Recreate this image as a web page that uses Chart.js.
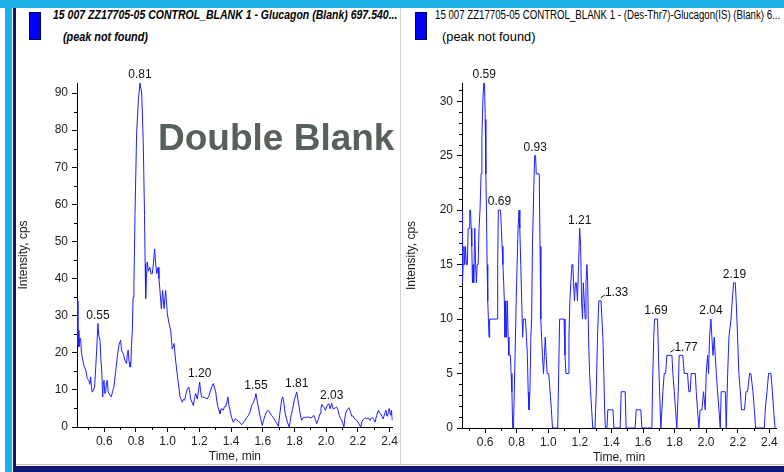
<!DOCTYPE html>
<html>
<head>
<meta charset="utf-8">
<script src="https://cdn.jsdelivr.net/npm/chart.js@4.4.1/dist/chart.umd.min.js"></script>
<style>
body{margin:0;width:784px;height:472px;position:relative;overflow:hidden;background:#fff;
  font-family:'Liberation Sans Narrow','Arial Narrow',Arial,sans-serif}
.abs{position:absolute}
#topbar{left:0;top:0;width:784px;height:8px;background:#1cb2e6}
#leftbar{left:5px;top:0;width:7px;height:472px;background:#1cb2e6}
#navyL{left:13px;top:8px;width:3px;height:464px;background:#0e1678}
#navyB{left:13px;top:466px;width:771px;height:6px;background:#0e1678}
#greyB{left:16px;top:464px;width:768px;height:1px;background:#c8c8c8}
#divider{left:400px;top:8px;width:1px;height:456px;background:#d4d4d4}
.box{width:10px;height:26px;background:#0000ff;border:1px solid #000060}
.t{white-space:nowrap;font-size:12px;line-height:14px;color:#000;transform-origin:0 0}
.bi{font-weight:bold;font-style:italic}
#dbl{left:158px;top:119px;font:bold 37px 'Liberation Sans',Arial,sans-serif;line-height:37px;color:#58605a;white-space:nowrap}
canvas{position:absolute}
</style>
</head>
<body>
<div class="abs" id="topbar"></div>
<div class="abs" id="leftbar"></div>
<div class="abs" id="navyL"></div>
<div class="abs" id="greyB"></div>
<div class="abs" id="navyB"></div>
<div class="abs" id="divider"></div>

<div class="abs box" style="left:29px;top:12px"></div>
<div class="abs t bi" style="left:53px;top:8px" data-w="344">15 007 ZZ17705-05 CONTROL_BLANK 1 - Glucagon (Blank) 697.540...</div>
<div class="abs t bi" style="left:63px;top:30px" data-w="85">(peak not found)</div>

<div class="abs box" style="left:415px;top:12px"></div>
<div class="abs t" style="left:435px;top:8px" data-w="345">15 007 ZZ17705-05 CONTROL_BLANK 1 - (Des-Thr7)-Glucagon(IS) (Blank) 6...</div>
<div class="abs t" style="left:442px;top:30px" data-w="93">(peak not found)</div>

<canvas id="left" width="388" height="410" style="left:12px;top:60px"></canvas>
<canvas id="right" width="384" height="410" style="left:400px;top:60px"></canvas>

<div class="abs" id="dbl">Double Blank</div>

<script>
// --- data ---
const leftTime = [
  0.431,0.434,0.437,0.440,0.446,0.451,0.456,0.461,0.472,0.483,
  0.493,0.503,0.509,0.514,0.519,0.524,0.532,0.539,0.546,0.552,
  0.560,0.566,0.573,0.579,0.584,0.590,0.594,0.598,0.604,0.609,
  0.614,0.619,0.625,0.630,0.637,0.644,0.652,0.661,0.672,0.682,
  0.692,0.703,0.710,0.720,0.730,0.741,0.746,0.751,0.757,0.762,
  0.767,0.772,0.777,0.782,0.787,0.790,0.794,0.804,0.815,0.825,
  0.836,0.846,0.854,0.858,0.861,0.866,0.871,0.879,0.888,0.895,
  0.903,0.910,0.918,0.924,0.931,0.939,0.945,0.951,0.960,0.968,
  0.977,0.987,0.998,1.008,1.019,1.029,1.040,1.050,1.058,1.065,
  1.078,1.085,1.092,1.100,1.107,1.116,1.124,1.134,1.145,1.155,
  1.162,1.170,1.177,1.187,1.195,1.202,1.208,1.214,1.229,1.240,
  1.250,1.261,1.271,1.280,1.288,1.296,1.303,1.310,1.317,1.324,
  1.330,1.338,1.344,1.351,1.358,1.366,1.373,1.380,1.386,1.393,
  1.404,1.414,1.425,1.435,1.446,1.457,1.467,1.478,1.488,1.498,
  1.509,1.519,1.530,1.540,1.549,1.557,1.565,1.572,1.580,1.587,
  1.597,1.605,1.614,1.625,1.635,1.645,1.656,1.667,1.677,1.688,
  1.698,1.706,1.713,1.720,1.726,1.733,1.740,1.748,1.755,1.767,
  1.778,1.789,1.800,1.814,1.821,1.828,1.836,1.845,1.852,1.860,
  1.870,1.881,1.895,1.908,1.915,1.923,1.932,1.940,1.950,1.961,
  1.967,1.972,1.980,1.988,1.995,2.003,2.010,2.016,2.024,2.035,
  2.042,2.049,2.058,2.066,2.075,2.083,2.090,2.098,2.105,2.112,
  2.118,2.125,2.135,2.144,2.152,2.161,2.168,2.175,2.184,2.192,
  2.205,2.218,2.226,2.234,2.245,2.255,2.265,2.276,2.285,2.293,
  2.300,2.308,2.318,2.329,2.336,2.344,2.352,2.360,2.368,2.377,
  2.382,2.386,2.392,2.398,2.403,2.407,2.412,2.417
];
const leftIntensity = [
  34,22,26,21.6,24,23.8,20,18.9,16.5,15.3,
  13,12.6,11.5,13.5,11,9.4,10,10.8,16,20.7,
  27.9,24.5,23.4,18,15.3,8.1,12,12.6,9,9.5,
  12,12.6,9.5,9,8.5,8.1,9.5,10.8,15,18.9,
  22,23.4,20.5,19.8,18,17.1,20,20.7,17.5,16.2,
  16.2,22,26,35,38.6,46,57.6,79,88,92.7,
  90,76.6,57,44,34.6,40,44.5,42,43,41.3,
  41.3,44,48,44,41.3,43,40,37,31.9,36.8,
  31.9,36.8,30.5,28,26,21,22.5,18,15,12.6,
  8.1,7.5,6.7,7.5,7.2,9,10.3,10.8,7.6,6.5,
  5.8,8,9,7.5,10,12.1,9.5,8.1,8,7.8,
  7.6,8.5,9.9,11,11.7,10.5,9.5,7,5.4,4.5,
  3.6,5,4.8,4.5,5.5,5.5,6.5,8.1,6,4.5,
  2.5,1.3,2.2,2,1.5,1.2,0.6,1.2,1.8,2.5,
  3.1,4,5.8,6.5,7.5,9,7,5.4,3.5,2.2,
  0.4,1.8,3.1,4.2,4.5,3.8,3.1,2.5,1.8,1,
  0.2,3,5.4,7.5,8.1,6.5,4,2.5,1.3,0,
  3,5,7.5,9.4,7.5,5.8,3.5,1.8,2.4,2.7,
  2.5,2.7,2.6,2.5,2.9,3.1,2,0.9,2,3.6,
  5,6.1,5.6,5.2,4.5,5.4,6,6.3,4.9,6.4,
  5,4.9,5.2,5.4,4.5,3.1,2.4,1.8,0.9,0,
  2.5,4,4.8,5.2,4.2,2.9,3,2.5,2.2,1.8,
  1,0,1.5,2,2.5,2.2,2.5,1.8,2.4,2.5,
  2,1.3,3,4.5,3.8,3.6,2.8,2.2,3.5,4.5,
  3,2.9,4,5,3.5,3.2,4.5,1.8
];

const rightTime = [
  0.455,0.457,0.461,0.466,0.471,0.476,0.482,0.488,0.493,0.499,
  0.503,0.508,0.512,0.516,0.520,0.524,0.528,0.535,0.540,0.545,
  0.550,0.556,0.562,0.568,0.575,0.580,0.586,0.592,0.597,0.601,
  0.605,0.609,0.613,0.617,0.621,0.625,0.629,0.676,0.680,0.684,
  0.698,0.703,0.708,0.713,0.718,0.722,0.726,0.731,0.736,0.741,
  0.746,0.751,0.760,0.765,0.770,0.775,0.780,0.785,0.790,0.797,
  0.803,0.809,0.815,0.820,0.826,0.832,0.838,0.843,0.856,0.862,
  0.868,0.873,0.878,0.884,0.890,0.895,0.900,0.908,0.914,0.920,
  0.924,0.943,0.948,0.953,0.958,0.963,0.970,0.976,0.981,0.987,
  0.993,1.003,1.012,1.020,1.027,1.060,1.066,1.072,1.100,1.106,
  1.112,1.126,1.131,1.137,1.143,1.150,1.156,1.160,1.166,1.172,
  1.178,1.185,1.192,1.199,1.205,1.211,1.217,1.222,1.228,1.234,
  1.239,1.245,1.250,1.255,1.262,1.268,1.275,1.282,1.296,1.304,
  1.312,1.320,1.334,1.340,1.346,1.352,1.357,1.362,1.372,1.377,
  1.410,1.416,1.455,1.462,1.487,1.493,1.550,1.557,1.586,1.593,
  1.656,1.662,1.668,1.673,1.692,1.698,1.705,1.713,1.726,1.734,
  1.743,1.751,1.783,1.789,1.798,1.806,1.814,1.823,1.829,1.852,
  1.861,1.882,1.890,1.899,1.905,1.931,1.937,1.945,1.954,1.962,
  1.973,1.983,1.994,2.000,2.009,2.015,2.021,2.030,2.036,2.043,
  2.051,2.057,2.064,2.072,2.081,2.089,2.095,2.121,2.127,2.136,
  2.144,2.157,2.165,2.174,2.184,2.190,2.199,2.207,2.216,2.224,
  2.243,2.252,2.262,2.275,2.283,2.296,2.305,2.313,2.368,2.374,
  2.385,2.395,2.410,2.419,2.427,2.436
];
const rightIntensity = [
  20,13.33,15,16.67,15,16.67,15,15,18.33,18.33,
  20,20,18.33,16.67,13.33,15,13.33,18.33,15,13.33,
  15,15,18.33,20,23.33,26.67,30,31.67,31.67,28.33,
  23.33,20,15,11.67,10,8.33,10,10,15,20,
  20,18.33,16.67,15,13.33,11.67,8.33,11.67,8.33,11.67,
  8.33,6.67,6.67,5,3.33,0,0,3.33,6.67,11.67,
  15,18.33,20,18.33,15,11.67,8.33,10,10,8.33,
  6.67,3.33,1.67,3.33,8.33,10,16.67,21.67,25,25,
  23.33,23.33,16.67,10,8.33,6.67,5,6.67,8.33,6.67,
  5,5,3.33,1.67,0,0,5,10,10,6.67,
  5,5,8.33,11.67,13.33,15,15,13.33,11.67,13.33,
  13.33,11.67,15,18.33,16.67,11.67,10,13.33,11.67,10,
  13.33,15,13.33,8.33,5,3.33,1.67,0,0,3.33,
  8.33,11.67,11.67,10,8.33,5,1.67,0,0,1.67,
  1.67,0,0,3.33,3.33,0,0,1.67,1.67,0,
  0,5,8.33,10,10,6.67,3.33,0,3.33,5,
  5,6.67,6.67,5,3.33,1.67,0,3.33,6.67,6.67,
  5,5,3.33,3.33,5,5,3.33,1.67,0,1.67,
  1.67,3.33,1.67,5,6.67,5,8.33,10,8.33,6.67,
  8.33,6.67,5,3.33,1.67,0,3.33,3.33,0,5,
  8.33,10,11.67,13.33,13.33,11.67,8.33,5,3.33,1.67,
  1.67,3.33,3.33,5,5,3.33,1.67,0,0,1.67,
  3.33,5,5,3.33,1.67,0
];

const leftPeaks = [0.55, 0.81, 1.20, 1.55, 1.81, 2.03];
const rightPeaks = [0.59, 0.69, 0.93, 1.21, 1.33, 1.69, 1.77, 2.04, 2.19];
const rightLeaderPeaks = [1.33, 1.77];

const xTicks = [0.6, 0.8, 1.0, 1.2, 1.4, 1.6, 1.8, 2.0, 2.2, 2.4];
const xMinorTicks = [0.5, 0.7, 0.9, 1.1, 1.3, 1.5, 1.7, 1.9, 2.1, 2.3];
const leftYTicks = [0, 10, 20, 30, 40, 50, 60, 70, 80, 90];
const leftYMinorTicks = [5, 15, 25, 35, 45, 55, 65, 75, 85];
const rightYTicks = [0, 5, 10, 15, 20, 25, 30];
const rightYMinorTicks = [1, 2, 3, 4, 6, 7, 8, 9, 11, 12, 13, 14, 16, 17, 18, 19, 21, 22, 23, 24, 26, 27, 28, 29, 31];

const FONT = "'Liberation Sans Narrow','Arial Narrow',Arial,sans-serif";

// peak retention-time labels, placed on the highest point near each peak
const peakLabels = {
  id: 'peakLabels',
  afterDatasetsDraw(chart, args, opts) {
    const pts = chart.data.datasets[0].data;
    const xs = chart.scales.x, ys = chart.scales.y, ctx = chart.ctx;
    ctx.save();
    ctx.font = '12px ' + FONT;
    ctx.fillStyle = '#111';
    ctx.strokeStyle = '#111';
    ctx.lineWidth = 1;
    ctx.textBaseline = 'bottom';
    opts.peaks.forEach(p => {
      const near = pts.filter(d => Math.abs(d.x - p) <= 0.02);
      const top = Math.max(...near.map(d => d.y));
      const at = near.filter(d => d.y === top);
      const tx = at.reduce((s, d) => s + d.x, 0) / at.length;
      const px = xs.getPixelForValue(tx), py = ys.getPixelForValue(top);
      const label = p.toFixed(2);
      if (opts.leaders.includes(p)) {
        ctx.beginPath();
        ctx.moveTo(px + 1, py - 3);
        ctx.lineTo(px + 5, py - 6);
        ctx.stroke();
        ctx.textAlign = 'left';
        ctx.fillText(label, px + 5, py - 2);
      } else {
        ctx.textAlign = 'center';
        ctx.fillText(label, px, py - 2);
      }
    });
    ctx.restore();
  }
};

// short unlabeled ticks
const minorTicks = {
  id: 'minorTicks',
  afterDraw(chart, args, opts) {
    const {ctx, scales: {x, y}} = chart;
    ctx.save();
    ctx.strokeStyle = '#000';
    ctx.lineWidth = 1;
    ctx.beginPath();
    opts.x.forEach(v => {
      const p = Math.round(x.getPixelForValue(v)) + 0.5;
      ctx.moveTo(p, x.top); ctx.lineTo(p, x.top + 3);
    });
    opts.y.forEach(v => {
      const p = Math.round(y.getPixelForValue(v)) + 0.5;
      ctx.moveTo(y.right - 3, p); ctx.lineTo(y.right, p);
    });
    ctx.stroke();
    ctx.restore();
  }
};

function makeChart(id, times, values, cfg) {
  const tickFont = {family: FONT, size: 12};
  return new Chart(document.getElementById(id), {
    type: 'line',
    data: {
      datasets: [{
        data: times.map((t, i) => ({x: t, y: values[i]})),
        borderColor: '#1e1eff',
        borderWidth: 1,
        pointRadius: 0,
        tension: 0
      }]
    },
    options: {
      responsive: false,
      animation: false,
      layout: {padding: {top: 23, right: cfg.padRight, left: 0, bottom: 0}},
      plugins: {
        legend: {display: false},
        tooltip: {enabled: false},
        peakLabels: {peaks: cfg.peaks, leaders: cfg.leaders},
        minorTicks: {x: xMinorTicks, y: cfg.yMinor}
      },
      scales: {
        x: {
          type: 'linear', min: cfg.xMin, max: cfg.xMax,
          afterBuildTicks: s => { s.ticks = xTicks.map(v => ({value: v})); },
          afterFit: s => { s.height = cfg.xAxisH; },
          ticks: {callback: v => v.toFixed(1), font: tickFont, color: '#222', padding: 2, maxRotation: 0, autoSkip: false},
          grid: {drawOnChartArea: false, tickLength: 5, tickColor: '#000'},
          border: {color: '#000', width: 1},
          title: {display: true, text: 'Time, min', font: tickFont, color: '#222', padding: {top: 1, bottom: cfg.titleGap}}
        },
        y: {
          type: 'linear', min: 0, max: cfg.yMax,
          afterBuildTicks: s => { s.ticks = cfg.yTicks.map(v => ({value: v})); },
          afterFit: s => { s.width = cfg.yAxisW; },
          ticks: {font: tickFont, color: '#222', padding: 4},
          grid: {drawOnChartArea: false, tickLength: 5, tickColor: '#000'},
          border: {color: '#000', width: 1},
          title: {display: true, text: 'Intensity, cps', font: tickFont, color: '#222', padding: {top: 4, bottom: 0}}
        }
      }
    },
    plugins: [peakLabels, minorTicks]
  });
}

makeChart('left', leftTime, leftIntensity, {
  xMin: 0.428, xMax: 2.42, yMax: 92.7, yTicks: leftYTicks, yMinor: leftYMinorTicks,
  peaks: leftPeaks, leaders: [], padRight: 7, yAxisW: 65, xAxisH: 43, titleGap: 6
});
makeChart('right', rightTime, rightIntensity, {
  xMin: 0.454, xMax: 2.442, yMax: 31.67, yTicks: rightYTicks, yMinor: rightYMinorTicks,
  peaks: rightPeaks, leaders: rightLeaderPeaks, padRight: 8, yAxisW: 62, xAxisH: 42, titleGap: 5
});

// squeeze header lines to the widths they have in the screenshot
document.querySelectorAll('.t').forEach(el => {
  el.style.transform = 'scaleX(' + (+el.dataset.w / el.offsetWidth) + ')';
});
</script>
</body>
</html>
